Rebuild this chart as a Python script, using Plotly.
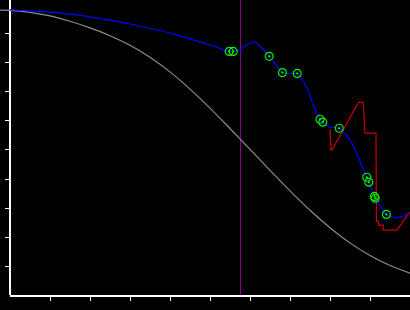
import plotly.graph_objects as go

# ---- data ----
gray_x = [-0.25, 0.0, 0.5, 1.0, 1.5, 2.0, 2.5, 3.0, 3.5, 4.0, 4.5, 5.0, 5.5, 6.0, 6.5, 7.0,
          7.5, 8.0, 8.5, 9.0, 9.5, 10.0]
gray_y = [9.824, 9.817, 9.748, 9.624, 9.438, 9.210, 8.941, 8.610, 8.197, 7.693, 7.100, 6.445,
          5.741, 5.024, 4.300, 3.590, 2.921, 2.321, 1.797, 1.362, 1.017, 0.755]

blue_x = [0.0, 0.825, 1.67, 2.5, 3.325, 4.17, 5.0, 5.48, 5.58, 5.75, 6.0, 6.125, 6.48, 6.81, 7.0, 7.18,
          7.425, 7.58, 7.75, 7.82, 8.0, 8.23, 8.5, 8.67, 8.75, 8.92, 8.97, 9.11, 9.13, 9.33, 9.41,
          9.58, 9.79, 9.96]
blue_y = [9.84, 9.77, 9.66, 9.48, 9.25, 8.97, 8.62, 8.40, 8.40, 8.47, 8.68, 8.72, 8.23, 7.67, 7.63, 7.64,
          7.14, 6.55, 6.06, 5.96, 5.79, 5.75, 5.34, 4.89, 4.60, 4.06, 3.89, 3.40, 3.34, 2.93, 2.78,
          2.68, 2.70, 2.82]

marker_x = [5.48, 5.58, 6.48, 6.81, 7.18, 7.75, 7.82, 8.23, 8.92, 8.97, 9.11, 9.13, 9.41]
marker_y = [8.40, 8.40, 8.23, 7.67, 7.64, 6.06, 5.96, 5.75, 4.06, 3.89, 3.40, 3.34, 2.78]

red_x = [8.0, 8.025, 8.05, 8.71, 8.83, 8.85, 8.875, 9.15, 9.16, 9.21, 9.21, 9.33, 9.33, 9.675, 10.0]
red_y = [5.72, 5.0, 5.0, 6.64, 6.64, 5.93, 5.58, 5.58, 2.55, 2.55, 2.41, 2.41, 2.24, 2.24, 2.87]

cursor_x = [5.7625, 5.7625]
cursor_y = [0.0, 10.172]

x_ticks = [1, 2, 3, 4, 5, 6, 7, 8, 9]
y_ticks = [1, 2, 3, 4, 5, 6, 7, 8, 9]
x_range = [0, 10]
x_full_range = [-0.25, 10]
y_range = [0, 10.172]

fig = go.Figure()

fig.add_trace(go.Scatter(x=cursor_x, y=cursor_y, mode="lines",
                         line=dict(color="#8b008b", width=1),
                         xaxis="x", yaxis="y", hoverinfo="skip"))
fig.add_trace(go.Scatter(x=gray_x, y=gray_y, mode="lines",
                         line=dict(color="#8c8c8c", width=1.2, shape="spline"),
                         xaxis="x2", yaxis="y"))
fig.add_trace(go.Scatter(x=red_x, y=red_y, mode="lines",
                         line=dict(color="#c80000", width=1.2),
                         xaxis="x2", yaxis="y"))
fig.add_trace(go.Scatter(x=blue_x, y=blue_y, mode="lines",
                         line=dict(color="#0000ff", width=1.2, shape="spline", smoothing=0.8),
                         xaxis="x2", yaxis="y"))
fig.add_trace(go.Scatter(x=marker_x, y=marker_y, mode="markers",
                         marker=dict(symbol="circle-open-dot", size=8, color="#00ee00",
                                     line=dict(width=1.2, color="#00ee00")),
                         xaxis="x2", yaxis="y"))

fig.update_layout(
    width=410, height=310,
    margin=dict(l=0, r=0, t=0, b=15),
    paper_bgcolor="black", plot_bgcolor="rgba(0,0,0,0)",
    showlegend=False,
    xaxis=dict(domain=[10 / 410, 1], range=x_range, anchor="y",
               showline=True, linecolor="white", linewidth=2,
               ticks="outside", ticklen=4, tickwidth=1, tickcolor="white",
               tickvals=x_ticks, showticklabels=False,
               showgrid=False, zeroline=False, fixedrange=True),
    xaxis2=dict(domain=[0, 1], range=x_full_range, anchor="y",
                visible=False, showgrid=False, zeroline=False),
    yaxis=dict(domain=[0, 1], range=y_range, anchor="free", position=10 / 410,
               showline=True, linecolor="white", linewidth=2,
               ticks="outside", ticklen=4, tickwidth=1, tickcolor="white",
               tickvals=y_ticks, showticklabels=False,
               showgrid=False, zeroline=False, fixedrange=True),
)

fig.write_html("out.html")
